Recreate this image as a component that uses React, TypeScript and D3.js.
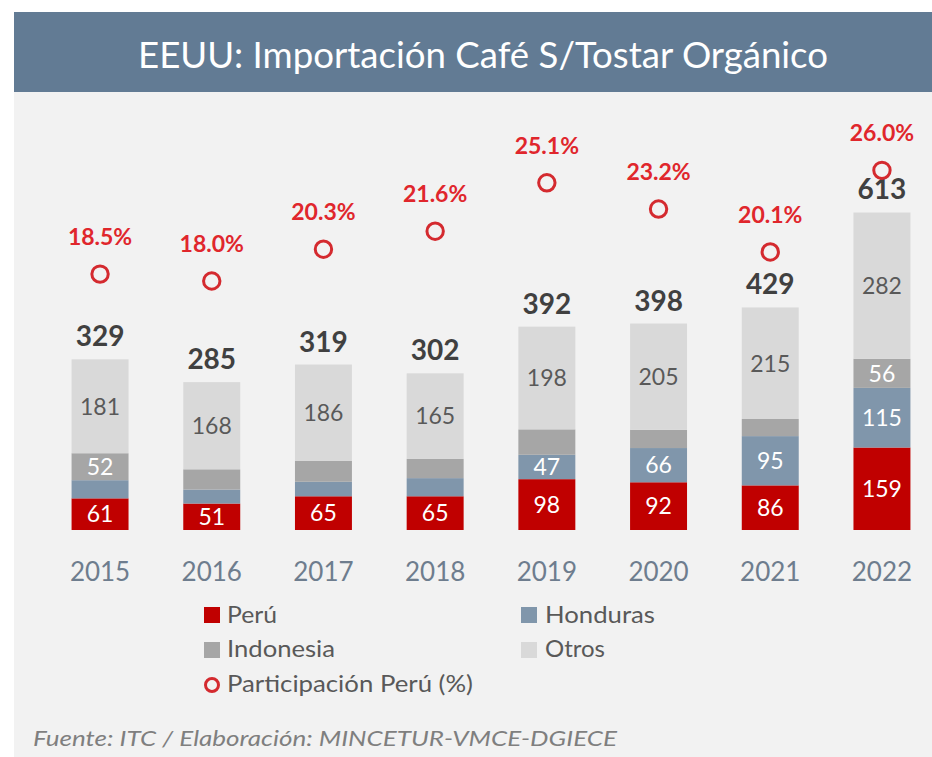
import React from "react";
import * as d3 from "d3";

const years = ["2015", "2016", "2017", "2018", "2019", "2020", "2021", "2022"];
const peru = [61, 51, 65, 65, 98, 92, 86, 159];
const honduras = [35, 27, 28, 35, 47, 66, 95, 115];
const indonesia = [52, 39, 40, 37, 49, 35, 33, 56];
const otros = [181, 168, 186, 165, 198, 205, 215, 282];
const totals = [329, 285, 319, 302, 392, 398, 429, 613];
const participacion = [18.5, 18.0, 20.3, 21.6, 25.1, 23.2, 20.1, 26.0];
const showHondurasLabel = [false, false, false, false, true, true, true, true];
const showIndonesiaLabel = [true, false, false, false, false, false, false, true];

const seriesNames = ["Perú", "Honduras", "Indonesia", "Otros"];
const seriesColors = ["#c00000", "#8096ab", "#a6a6a6", "#d9d9d9"];
const labelColors = ["#ffffff", "#ffffff", "#ffffff", "#595959"];

const W = 932;
const H = 757;
const FONT = "Lato, 'Open Sans', sans-serif";

export default function App() {
  const x = d3
    .scaleBand<string>()
    .domain(years)
    .range([44.2, 937.8])
    .paddingInner(0.49)
    .paddingOuter(0.245);
  const y = d3.scaleLinear().domain([0, 800]).range([530, 115]);
  const y2 = d3.scaleLinear().domain([0, 30]).range([530, 115]);

  const table = years.map((yr, i) => ({
    year: yr,
    Perú: peru[i],
    Honduras: honduras[i],
    Indonesia: indonesia[i],
    Otros: otros[i],
  }));
  const stacked = d3.stack<any>().keys(seriesNames)(table);
  const showLabel = [
    years.map(() => true),
    showHondurasLabel,
    showIndonesiaLabel,
    years.map(() => true),
  ];

  const bw = x.bandwidth();

  return (
    <div style={{ position: "absolute", left: 0, top: 0 }}>
      <svg width={W} height={H} style={{ display: "block" }} fontFamily={FONT}>
        <rect x={0} y={0} width={W} height={H} fill="#ffffff" />
        <rect x={14} y={92} width={W - 14} height={H - 92} fill="#f2f2f2" />
        <rect x={14} y={12} width={W - 14} height={80} fill="#627b94" />
        <text
          x={483}
          y={68}
          textAnchor="middle"
          fill="#ffffff"
          fontSize={36}
          textLength={690}
          lengthAdjust="spacingAndGlyphs"
        >
          EEUU: Importación Café S/Tostar Orgánico
        </text>

        {stacked.map((layer, si) => (
          <g key={layer.key}>
            {layer.map((d, i) => {
              const x0 = x(years[i])!;
              const top = y(d[1]);
              const bot = y(d[0]);
              return (
                <g key={i}>
                  <rect x={x0} y={top} width={bw} height={bot - top} fill={seriesColors[si]} />
                  {showLabel[si][i] && (
                    <text
                      x={x0 + bw / 2}
                      y={(top + bot) / 2}
                      dy="0.36em"
                      textAnchor="middle"
                      fontSize={23}
                      fill={labelColors[si]}
                    >
                      {d[1] - d[0]}
                    </text>
                  )}
                </g>
              );
            })}
          </g>
        ))}

        {totals.map((t, i) => (
          <text
            key={"t" + i}
            x={x(years[i])! + bw / 2}
            y={y(t) - 13}
            textAnchor="middle"
            fontSize={28}
            fontWeight="bold"
            fill="#404040"
          >
            {t}
          </text>
        ))}

        {participacion.map((p, i) => {
          const cx = x(years[i])! + bw / 2;
          const cy = y2(p);
          return (
            <g key={"p" + i}>
              <circle cx={cx} cy={cy} r={8.2} fill="none" stroke="#d42a2f" strokeWidth={3} />
              <text
                x={cx}
                y={cy - 29}
                textAnchor="middle"
                fontSize={23}
                fontWeight="bold"
                fill="#e0262c"
              >
                {p.toFixed(1) + "%"}
              </text>
            </g>
          );
        })}

        {years.map((yr) => (
          <text
            key={"x" + yr}
            x={x(yr)! + bw / 2}
            y={581}
            textAnchor="middle"
            fontSize={26}
            fill="#6e7d8e"
          >
            {yr}
          </text>
        ))}

        {/* Legend */}
        <g fontSize={24} fill="#595959">
          <rect x={204} y={607} width={16} height={16} fill={seriesColors[0]} />
          <text x={227} y={623} textLength={50} lengthAdjust="spacingAndGlyphs">{seriesNames[0]}</text>
          <rect x={521} y={607} width={16} height={16} fill={seriesColors[1]} />
          <text x={545} y={623} textLength={110} lengthAdjust="spacingAndGlyphs">{seriesNames[1]}</text>
          <rect x={204} y={642} width={16} height={16} fill={seriesColors[2]} />
          <text x={227} y={657} textLength={108} lengthAdjust="spacingAndGlyphs">{seriesNames[2]}</text>
          <rect x={521} y={642} width={16} height={16} fill={seriesColors[3]} />
          <text x={545} y={657} textLength={60} lengthAdjust="spacingAndGlyphs">{seriesNames[3]}</text>
          <circle cx={212} cy={685} r={6.5} fill="none" stroke="#d42a2f" strokeWidth={3} />
          <text x={227} y={692} textLength={246} lengthAdjust="spacingAndGlyphs">Participación Perú (%)</text>
        </g>

        <text
          x={33}
          y={746}
          fontSize={21}
          fontStyle="italic"
          fill="#7f7f7f"
          textLength={584}
          lengthAdjust="spacingAndGlyphs"
        >
          Fuente: ITC / Elaboración: MINCETUR-VMCE-DGIECE
        </text>
      </svg>
    </div>
  );
}
